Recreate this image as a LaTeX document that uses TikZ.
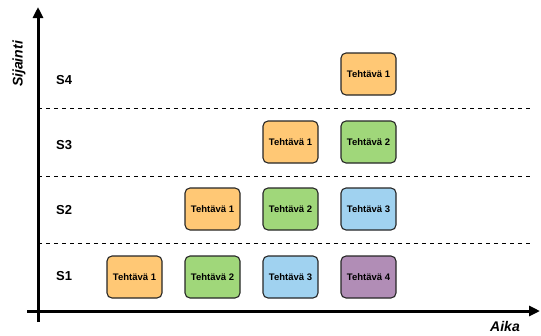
\documentclass[tikz,border=0pt]{standalone}
\usepackage{fontspec}
\setmainfont{Liberation Sans}
\usepackage{tikz}
\usetikzlibrary{positioning, arrows.meta}
\definecolor{teht1}{HTML}{FFC875}
\definecolor{teht2}{HTML}{A0D77A}
\definecolor{teht3}{HTML}{A0D2F0}
\definecolor{teht4}{HTML}{B18DB6}

\begin{document}
\begin{tikzpicture}[x=1pt,y=-1pt,
          task/.style={draw=black!85,line width=1.1pt,rounded corners=5pt,minimum width=55pt,minimum height=42pt,inner sep=1pt,font=\fontsize{9.5}{10}\selectfont\bfseries},
          lane/.style={anchor=west,inner sep=0pt,font=\fontsize{13}{14}\selectfont\bfseries},
          axis/.style={line width=3pt,-{Triangle[length=11pt,width=10pt]}},
          sep/.style={line width=0.9pt,dash pattern=on 4pt off 4pt}
        ]
        \useasboundingbox (0,0) rectangle (541,335);
        % axes
        \coordinate (ytop) at (38,7);
        \coordinate (ybot) at (38,322);
        \coordinate (xl) at (27,311);
        \coordinate (xr) at (540,311);
        \draw[axis] (ybot) -- (ytop);
        \draw[axis] (xl) -- (xr);
        \node[rotate=90,font=\fontsize{14}{15}\selectfont\bfseries\itshape] (sij) at (19,64) {Sijainti};
        \node[font=\fontsize{14}{15}\selectfont\bfseries\itshape] (aika) at (505,326) {Aika};
        % lanes
        \foreach\k/\y in {a/108,b/176,c/243}{
          \coordinate (\k l) at (38,\y);
          \coordinate (\k r) at (530,\y);
          \draw[sep] (\k l) -- (\k r);
        }
        \foreach\i/\y in {1/276,2/210,3/145,4/80}{\node[lane] (s\i) at (56,\y) {S\i};}
        % tasks
        \foreach\r/\y in {1/277,2/209,3/142,4/74}{
          \foreach\n in {1,...,4}{
            \pgfmathtruncatemacro\c{\r+\n-1}
            \ifnum\c<5
              \node[task,fill=teht\n] (t\r\n) at ({134.5+78*(\c-1)},\y) {Tehtävä \n};
            \fi
          }
        }
      \end{tikzpicture}
\end{document}
